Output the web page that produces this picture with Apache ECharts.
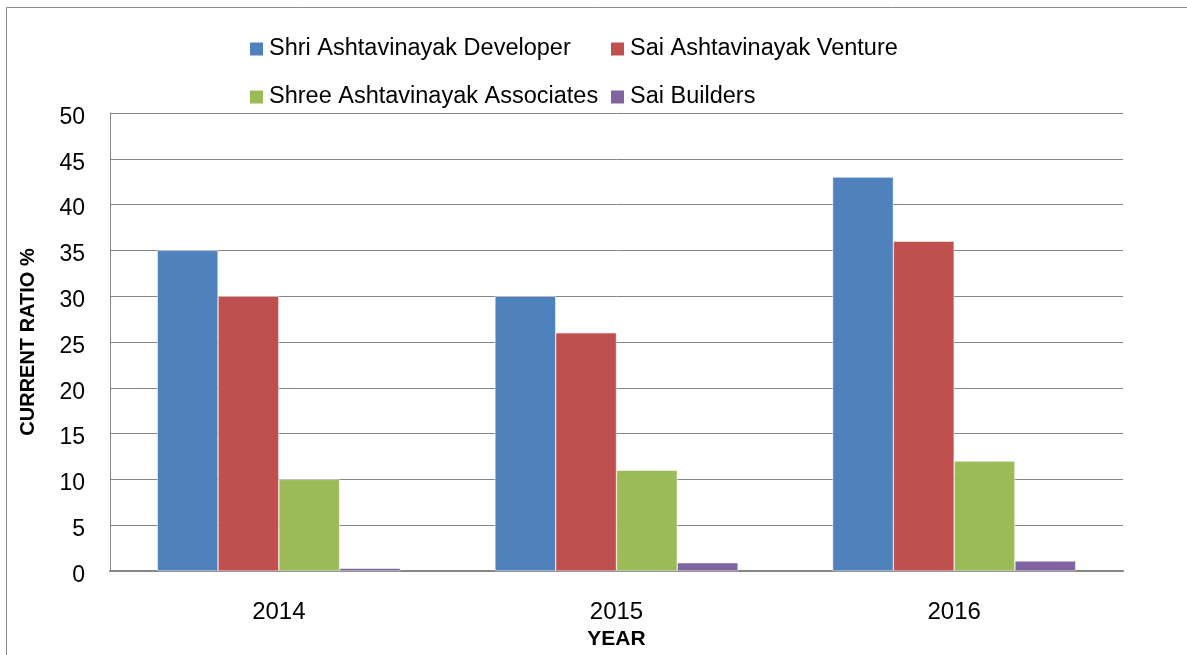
<!DOCTYPE html>
<html><head><meta charset="utf-8">
<script src="https://cdn.jsdelivr.net/npm/echarts@6/dist/echarts.min.js"></script>
<style>html,body{margin:0;padding:0;background:#fff}#c{width:1187px;height:655px}</style>
</head><body><div id="c"></div>
<script>
const categories = ['2014', '2015', '2016'];
const seriesNames = ['Shri Ashtavinayak Developer', 'Sai Ashtavinayak Venture', 'Shree Ashtavinayak Associates', 'Sai Builders'];
const shriDeveloper = [35, 30, 43];
const saiVenture = [30, 26, 36];
const shreeAssociates = [10, 11, 12];
const saiBuilders = [0.3, 0.9, 1.1];
const yTicks = [0, 5, 10, 15, 20, 25, 30, 35, 40, 45, 50];
const colors = ['#4F81BD', '#C0504D', '#9BBB59', '#8064A2'];
const values = [shriDeveloper, saiVenture, shreeAssociates, saiBuilders];
const font = 'Liberation Sans, Arial, sans-serif';
const legendPos = [[248, 37], [609, 37], [248, 85], [609, 85]];

const chart = echarts.init(document.getElementById('c'));
chart.setOption({
  animation: false,
  color: colors,
  graphic: [{type: 'rect', shape: {x: 6.5, y: 7.5, width: 1300, height: 800}, style: {fill: 'none', stroke: '#8c8c8c', lineWidth: 1}}],
  legend: seriesNames.map((n, i) => ({
    data: [n], left: legendPos[i][0], top: legendPos[i][1], padding: 0,
    itemWidth: 15, itemHeight: 15, itemGap: 8, icon: 'rect',
    textStyle: {fontFamily: font, fontSize: 23.5, color: '#000'}
  })),
  grid: {left: 110, right: 64, top: 113, bottom: 83, containLabel: false},
  xAxis: {
    type: 'category', data: categories,
    name: 'YEAR', nameLocation: 'middle', nameGap: 58,
    nameTextStyle: {fontFamily: font, fontSize: 21, fontWeight: 'bold', color: '#000'},
    axisLine: {lineStyle: {color: '#868686', width: 2}},
    axisTick: {show: false},
    axisLabel: {fontFamily: font, fontSize: 24, color: '#000', margin: 29}
  },
  yAxis: {
    type: 'value', min: 0, max: 50, interval: 5,
    name: 'CURRENT RATIO %', nameLocation: 'middle', nameGap: 72, nameRotate: 90,
    nameTextStyle: {fontFamily: font, fontSize: 20, fontWeight: 'bold', color: '#000'},
    axisLine: {show: true, lineStyle: {color: '#868686', width: 1}},
    axisTick: {show: false},
    splitLine: {lineStyle: {color: '#868686', width: 1}},
    axisLabel: {fontFamily: font, fontSize: 23, color: '#000', margin: 25,
      formatter: v => yTicks.includes(v) ? '{t|' + v + '}' : '',
      rich: {t: {fontFamily: font, fontSize: 23, color: '#000', padding: [9, 0, 0, 0]}}}
  },
  series: seriesNames.map((n, i) => ({
    name: n, type: 'bar', data: values[i],
    barGap: '0%', barCategoryGap: '28%',
    itemStyle: {color: colors[i], borderColor: '#ffffff', borderWidth: 0.5}
  }))
});
</script></body></html>
